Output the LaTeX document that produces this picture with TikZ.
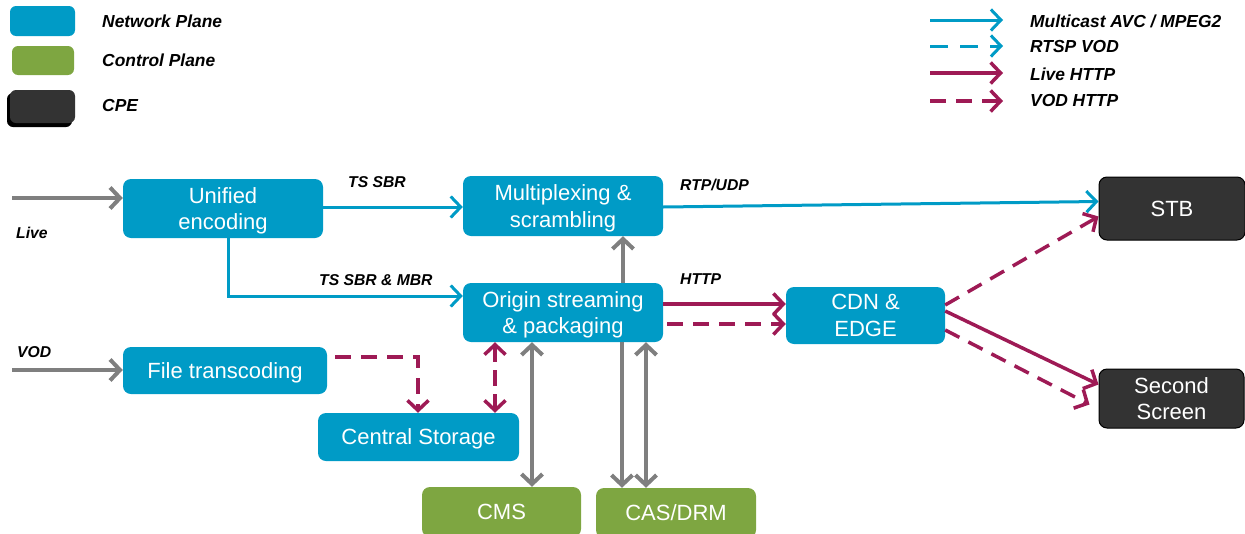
\documentclass[tikz,border=0pt]{standalone}
\usepackage{fontspec}
\setmainfont{Liberation Sans}
\usetikzlibrary{arrows.meta,calc}
\definecolor{netblue}{HTML}{009BC6}
\definecolor{ctrlgreen}{HTML}{7EA641}
\definecolor{cpedark}{HTML}{333333}
\definecolor{wine}{HTML}{9E1A55}
\definecolor{arrgray}{HTML}{7F7F7F}
\tikzset{
  >={Straight Barb[length=10pt,width=21pt]},
  box/.style={rounded corners=8pt, inner sep=0pt, align=center, text=white,
    text depth=0pt, font=\fontsize{22}{26.5}\selectfont},
  netbox/.style={box, fill=netblue},
  ctlbox/.style={box, fill=ctrlgreen},
  cpebox/.style={box, fill=cpedark, draw=black, line width=1pt},
  lbl/.style={font=\fontsize{15.7}{18}\selectfont\bfseries\itshape, anchor=west, inner sep=0pt},
  leg/.style={font=\fontsize{17.4}{20}\selectfont\bfseries\itshape, anchor=west, inner sep=0pt},
  bluearr/.style={draw=netblue, line width=3pt, ->},
  bluedash/.style={bluearr, dash pattern=on 18pt off 12pt},
  redarr/.style={draw=wine, line width=3.5pt, ->},
  reddash/.style={redarr, dash pattern=on 16pt off 10pt},
  grayarr/.style={draw=arrgray, line width=4pt, ->},
  graydbl/.style={draw=arrgray, line width=4pt, <->},
}
\begin{document}
\begin{tikzpicture}[x=1pt,y=-1pt]
\useasboundingbox (0,0) rectangle (1245,533);

% legend left
\fill[netblue, rounded corners=6pt] (10,6) rectangle (75,36);
\fill[ctrlgreen, rounded corners=6pt] (12,46) rectangle (74,75);
\fill[black, rounded corners=6pt] (7,93) rectangle (72,127);
\fill[cpedark, rounded corners=6pt] (10,90) rectangle (75,123);
\node[leg] (lnet) at (102,21) {Network Plane};
\node[leg] (lctl) at (102,60) {Control Plane};
\node[leg] (lcpe) at (102,106) {CPE};

% legend right
\coordinate (a1s) at (930,20);  \coordinate (a1e) at (1003,20);
\coordinate (a2s) at (930,46);  \coordinate (a2e) at (1003,46);
\coordinate (a3s) at (930,73);  \coordinate (a3e) at (1003,73);
\coordinate (a4s) at (930,101); \coordinate (a4e) at (1003,101);
\draw[bluearr] (a1s) -- (a1e);
\draw[bluedash] (a2s) -- (a2e);
\draw[redarr] (a3s) -- (a3e);
\draw[reddash] (a4s) -- (a4e);
\node[leg] (t1) at (1030,21) {Multicast AVC / MPEG2};
\node[leg] (t2) at (1030,47) {RTSP VOD};
\node[leg] (t3) at (1030,74) {Live HTTP};
\node[leg] (t4) at (1030,101) {VOD HTTP};

% boxes
\node[netbox, minimum width=200pt, minimum height=59pt] (ue) at (223,208.5) {Unified\\encoding};
\node[netbox, minimum width=200pt, minimum height=60pt] (mux) at (563,206) {Multiplexing \&\\scrambling};
\node[netbox, minimum width=200pt, minimum height=59pt] (orig) at (563,312.5) {Origin streaming\\\& packaging};
\node[netbox, minimum width=159pt, minimum height=57pt] (cdn) at (865.5,315.5) {CDN \&\\EDGE};
\node[cpebox, minimum width=146pt, minimum height=63pt] (stb) at (1172,208.5) {STB};
\node[cpebox, minimum width=145pt, minimum height=59pt] (ss) at (1171.5,398.5) {Second\\Screen};
\node[netbox, minimum width=204pt, minimum height=47pt] (ft) at (225,370.5) {File transcoding};
\node[netbox, minimum width=201pt, minimum height=48pt] (cs) at (418.5,437) {Central Storage};
\node[ctlbox, minimum width=159pt, minimum height=50pt] (cms) at (501.5,512) {CMS};
\node[ctlbox, minimum width=160pt, minimum height=50pt] (cas) at (676,513) {CAS/DRM};

% inputs
\coordinate (live) at (12,198);
\coordinate (vod) at (12,370);
\draw[grayarr] (live) -- (live -| ue.west);
\draw[grayarr] (vod) -- (vod -| ft.west);
\node[lbl] (llive) at (16,233) {Live};
\node[lbl] (lvod) at (17,352) {VOD};

% blue connectors
\coordinate (u1) at ($(ue.east |- mux.west)+(0,1)$);
\draw[bluearr] (u1) -- (u1 -| mux.west);
\coordinate (u2) at (228,238);
\draw[bluearr] (ue.south -| u2) |- (orig.west |- 0,296);
\coordinate (m1) at ($(mux.east)+(0,1)$);
\draw[bluearr] (m1) -- ($(stb.west)+(0,-7)$);
\node[lbl] (ltss) at (348,182) {TS SBR};
\node[lbl] (ltsm) at (319,280) {TS SBR \& MBR};
\node[lbl] (lrtp) at (680,185) {RTP/UDP};
\node[lbl] (lhttp) at (680,279) {HTTP};

% origin to mux / cas
\draw[grayarr] (orig.north -| 623,0) -- (mux.south -| 623,0);
\draw[grayarr] (orig.south -| 622,0) -- (cas.north -| 622,0);
\draw[graydbl] (orig.south -| 646,0) -- (cas.north -| 646,0);
\draw[graydbl] (orig.south -| 532,0) -- (cms.north -| 532,0);

% http
\draw[redarr] (orig.east |- 0,304) -- (cdn.west |- 0,304);
\draw[reddash] ($(orig.east |- 0,324)+(4,0)$) -- (cdn.west |- 0,324);
\draw[reddash] (cdn.east |- 0,305) -- ($(stb.west)+(0,8)$);
\draw[redarr] (cdn.east |- 0,311) -- ($(ss.west)+(0,-14)$);
\draw[reddash] (cdn.east |- 0,330) -- ($(ss.west)+(-9,6)$);

% storage
\draw[reddash] ($(ft.east |- 0,357)+(8,0)$) -| (cs.north -| 418,0);
\draw[draw=wine, line width=3.5pt, <->, dash pattern=on 16pt off 8pt] (orig.south -| 495,0) -- (cs.north -| 495,0);
\end{tikzpicture}
\end{document}
